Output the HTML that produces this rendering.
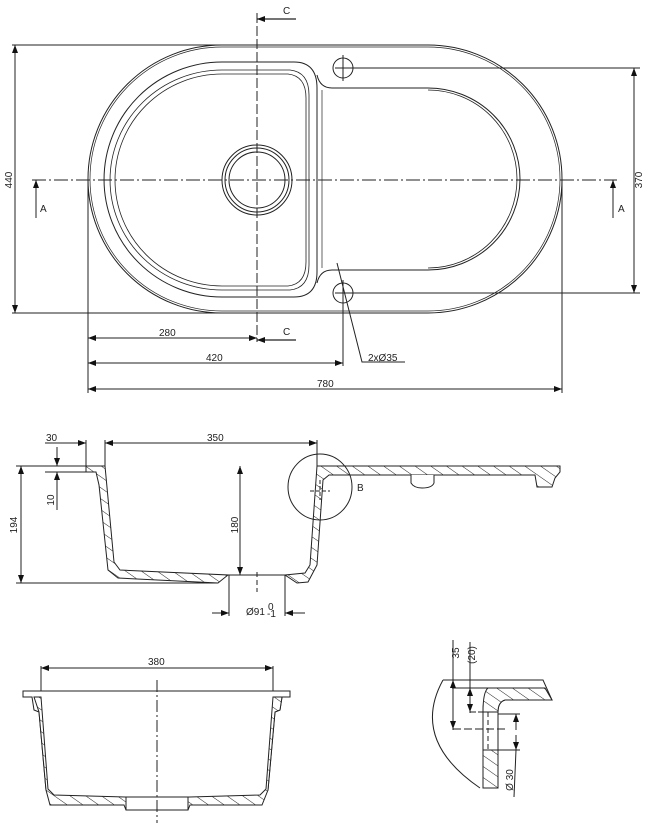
<!DOCTYPE html>
<html><head><meta charset="utf-8"><style>
html,body{margin:0;padding:0;background:#fff;}
svg{display:block;}
text{font-family:"Liberation Sans",sans-serif;font-size:10px;fill:#222;}
</style></head><body>
<svg width="648" height="823" viewBox="0 0 648 823" xmlns="http://www.w3.org/2000/svg">
<defs>
<pattern id="h" patternUnits="userSpaceOnUse" width="9" height="9" patternTransform="rotate(-55)">
<rect width="9" height="9" fill="#fff"/><line x1="0" y1="0" x2="0" y2="9" stroke="#222" stroke-width="1"/>
</pattern>
<marker id="ar" markerWidth="8" markerHeight="6" refX="8" refY="3" orient="auto-start-reverse" markerUnits="userSpaceOnUse"><path d="M0,0 L8,3 L0,6 z" fill="#111"/></marker>
</defs>
<g fill="none" stroke="#222" stroke-width="1">
<!-- TOP VIEW -->
<rect x="88" y="45" width="474" height="268" rx="134" ry="134"/>
<rect x="90" y="47" width="470" height="264" rx="132" ry="132" stroke-width="0.7"/>
<path d="M222,62 L294,62 Q317,62 317,88 L317,272 Q317,297 294,297 L222,297 A118,117.5 0 0 1 222,62 Z"/>
<path d="M222,70 L290,70 Q309,72 309,95 L309,265 Q309,288 290,290 L222,290 A112,110 0 0 1 222,70 Z" stroke-width="0.8"/>
<path d="M222,74 L288,74 Q306,76 306,98 L306,262 Q306,284 288,286 L222,286 A107,106 0 0 1 222,74 Z" stroke-width="0.8"/>
<path d="M317,75 Q320,88 332,88 L428,88 A92,91 0 0 1 428,270 L332,270 Q320,270 317,283" />
<path d="M428,90 A89,89 0 0 1 428,268" stroke-width="0.8"/>
<line x1="322" y1="90" x2="322" y2="268" stroke-width="0.7"/>
<circle cx="257" cy="180" r="35"/><circle cx="257" cy="180" r="32"/><circle cx="257" cy="180" r="28"/>
<circle cx="343" cy="68" r="10"/><circle cx="343" cy="293" r="10"/>
<line x1="343" y1="55" x2="343" y2="81"/><line x1="343" y1="280" x2="343" y2="306"/>
<line x1="335" y1="68" x2="640" y2="68"/><line x1="335" y1="293" x2="640" y2="293"/>
<line x1="634" y1="68" x2="634" y2="293" marker-start="url(#ar)" marker-end="url(#ar)"/>
<line x1="12" y1="45" x2="222" y2="45"/><line x1="12" y1="313" x2="222" y2="313"/>
<line x1="15" y1="45" x2="15" y2="313" marker-start="url(#ar)" marker-end="url(#ar)"/>
<line x1="32" y1="180" x2="617" y2="180" stroke-dasharray="14,3,2,3"/>
<line x1="257" y1="13" x2="257" y2="342" stroke-dasharray="10,3"/>
<line x1="296" y1="19" x2="257" y2="19" marker-end="url(#ar)" stroke-width="1.2"/>
<line x1="296" y1="340" x2="257" y2="340" marker-end="url(#ar)" stroke-width="1.2"/>
<line x1="36" y1="218" x2="36" y2="180" marker-end="url(#ar)"/>
<line x1="613" y1="218" x2="613" y2="180" marker-end="url(#ar)"/>
<line x1="88" y1="180" x2="88" y2="393"/><line x1="562" y1="180" x2="562" y2="393"/><line x1="343" y1="293" x2="343" y2="366"/>
<line x1="88" y1="338" x2="257" y2="338" marker-start="url(#ar)" marker-end="url(#ar)"/>
<line x1="88" y1="363" x2="343" y2="363" marker-start="url(#ar)" marker-end="url(#ar)"/>
<line x1="88" y1="389" x2="562" y2="389" marker-start="url(#ar)" marker-end="url(#ar)"/>
<polyline points="337,263 362,362 405,362"/>
<!-- SECTION A -->
<line x1="16" y1="466" x2="86" y2="466"/><line x1="16" y1="583" x2="218" y2="583"/>
<line x1="21" y1="466" x2="21" y2="583" marker-start="url(#ar)" marker-end="url(#ar)"/>
<path d="M86,466 L105,466 L114,562 L120,570 L228,575 L218,583 L118,578 L108,570 L99,485 L96,472 L86,472 Z" fill="url(#h)"/>
<path d="M317,466 L560,466 L560,472 L555,478 L552,487 L537,487 L535,475 L329,475 L323,480 L317,565 L308,582 L297,583 L285,575 L305,573 L310,565 Z" fill="url(#h)"/>
<path d="M411,475 L411,483 Q414,488 422,488 Q432,488 434,483 L434,475" fill="#fff"/>
<line x1="228" y1="575" x2="285" y2="575"/>
<ellipse cx="320" cy="487" rx="32" ry="33"/>
<line x1="310" y1="491" x2="330" y2="491" stroke-dasharray="4,2"/><line x1="320" y1="480" x2="320" y2="500" stroke-dasharray="4,2"/>
<line x1="45" y1="443" x2="86" y2="443" marker-end="url(#ar)"/>
<line x1="105" y1="443" x2="317" y2="443" marker-start="url(#ar)" marker-end="url(#ar)"/>
<line x1="86" y1="440" x2="86" y2="466"/><line x1="105" y1="440" x2="105" y2="466"/><line x1="317" y1="440" x2="317" y2="466"/>
<line x1="57" y1="447" x2="57" y2="466" marker-end="url(#ar)"/><line x1="57" y1="510" x2="57" y2="472" marker-end="url(#ar)"/>
<line x1="45" y1="472" x2="86" y2="472"/>
<line x1="240" y1="466" x2="240" y2="575" marker-start="url(#ar)" marker-end="url(#ar)"/>
<line x1="229" y1="575" x2="229" y2="616"/><line x1="285" y1="575" x2="285" y2="616"/>
<line x1="212" y1="613" x2="229" y2="613" marker-end="url(#ar)"/><line x1="305" y1="613" x2="285" y2="613" marker-end="url(#ar)"/>
<line x1="257" y1="572" x2="257" y2="592" stroke-dasharray="5,3"/>
<!-- SECTION C -->
<line x1="41" y1="668" x2="273" y2="668" marker-start="url(#ar)" marker-end="url(#ar)"/>
<line x1="41" y1="666" x2="41" y2="691"/><line x1="273" y1="666" x2="273" y2="691"/>
<path d="M23,691 L290,691 L290,697 L282,697 L280,710 L275,712 L268,790 L262,797 L190,800 L188,805 L126,805 L124,800 L52,797 L46,790 L39,712 L34,710 L32,697 L23,697 Z" fill="none"/>
<path d="M34,697 L41,697 L48,789 L54,795 L125,797 L190,797 L260,795 L266,789 L273,697 L282,697 L280,710 L275,712 L268,790 L262,805 L190,805 L188,810 L126,810 L124,805 L50,805 L46,790 L39,712 Z" fill="url(#h)"/>
<rect x="126" y="797" width="62" height="13" fill="#fff"/>
<line x1="41" y1="691" x2="273" y2="691"/>
<line x1="157" y1="680" x2="157" y2="823" stroke-dasharray="12,3,2,3"/>
<!-- DETAIL B -->
<path d="M443,680 Q410,740 480,788"/>
<path d="M443,680 L543,680 L552,700 L505,700 Q498,702 498,712 L498,788 L483,788 L483,712 Q483,689 495,688 L452,688" fill="none"/>
<path d="M488,688 L545,688 L552,700 L505,700 Q498,702 498,712 L483,712 Q483,692 488,688 Z" fill="url(#h)"/>
<rect x="483" y="750" width="15" height="38" fill="url(#h)"/>
<line x1="453" y1="640" x2="453" y2="730"/><line x1="470" y1="642" x2="470" y2="713"/>
<line x1="453" y1="690" x2="453" y2="680" marker-end="url(#ar)"/><line x1="453" y1="690" x2="453" y2="729" marker-end="url(#ar)"/>
<line x1="470" y1="695" x2="470" y2="688" marker-end="url(#ar)"/><line x1="470" y1="700" x2="470" y2="712" marker-end="url(#ar)"/>
<line x1="470" y1="712" x2="498" y2="712" stroke-dasharray="6,2"/>
<line x1="453" y1="729" x2="505" y2="729" stroke-dasharray="8,3"/>
<line x1="498" y1="714" x2="520" y2="714"/><line x1="498" y1="750" x2="520" y2="750"/>
<line x1="488" y1="712" x2="488" y2="750" stroke-dasharray="5,3"/>
<line x1="516" y1="730" x2="516" y2="714" marker-end="url(#ar)"/><line x1="516" y1="735" x2="516" y2="750" marker-end="url(#ar)"/>
<line x1="516" y1="750" x2="514" y2="797"/>
</g>
<g>
<text x="283" y="14">C</text><text x="283" y="335">C</text>
<text x="40" y="212" font-size="11">A</text><text x="618" y="212" font-size="11">A</text>
<text x="159" y="336">280</text><text x="206" y="361">420</text><text x="317" y="387">780</text>
<text x="368" y="361">2xØ35</text>
<text transform="translate(12,180) rotate(-90)" text-anchor="middle">440</text>
<text transform="translate(642,180) rotate(-90)" text-anchor="middle">370</text>
<text x="46" y="441">30</text><text x="207" y="441">350</text>
<text transform="translate(54,500) rotate(-90)" text-anchor="middle">10</text>
<text transform="translate(17,525) rotate(-90)" text-anchor="middle">194</text>
<text transform="translate(238,525) rotate(-90)" text-anchor="middle">180</text>
<text x="357" y="491" font-size="11">B</text>
<text x="246" y="615">Ø91</text><text x="268" y="610" font-size="6">0</text><text x="267" y="617" font-size="6">-1</text>
<text x="148" y="665">380</text>
<text transform="translate(459,653) rotate(-90)" text-anchor="middle">35</text>
<text transform="translate(475,655) rotate(-90)" text-anchor="middle">(20)</text>
<text transform="translate(513,780) rotate(-90)" text-anchor="middle">Ø 30</text>
</g>
</svg>
</body></html>
